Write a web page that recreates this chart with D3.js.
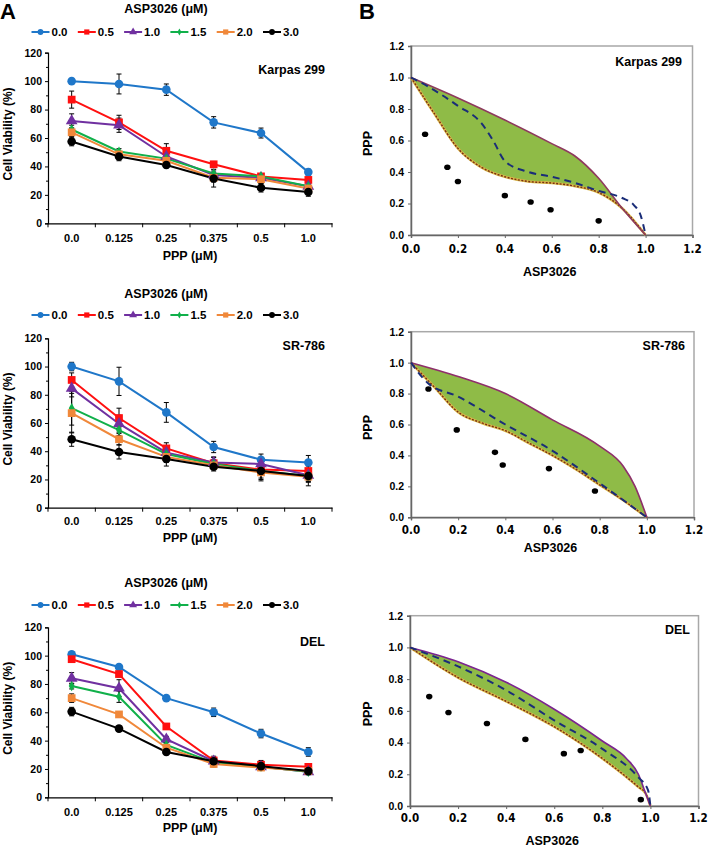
<!DOCTYPE html>
<html><head><meta charset="utf-8">
<script src="https://cdn.jsdelivr.net/npm/d3@7"></script>
<style>
html,body{margin:0;padding:0;background:#fff;}
svg{display:block;font-family:"Liberation Sans",Arial,sans-serif;font-weight:bold;}
</style></head>
<body><svg id="c" width="709" height="848"></svg>
<script>
// ---------- DATA ----------
const pppLabels = ["0.0","0.125","0.25","0.375","0.5","1.0"];
const aspLevels = ["0.0","0.5","1.0","1.5","2.0","3.0"];
const yTicksA = [0,20,40,60,80,100,120];
const ticksB = [0,0.2,0.4,0.6,0.8,1.0,1.2];

// Karpas 299 viability (%) per ASP3026 level
const karpasMean = [
  [100, 98, 94, 71, 63.5, 36],
  [87, 71, 51, 41.5, 33, 30.5],
  [72, 69, 47, 34, 32, 26],
  [66, 50.5, 45.5, 35, 33, 26],
  [64, 48.5, 44, 32, 31, 24.5],
  [57.5, 47, 41, 31.5, 25, 22]
];
const karpasErr = [
  [1,7,4,4,3.5,2],[6,5,5,2,2,2],[5,5,4,2,2,2],[3,2,2,3,2,2],[3,2,2,3,3,2],[3,3,2,6,3,3]
];
const srMean = [
  [100, 89.5, 67.5, 43, 34, 32],
  [90.5, 63.5, 42, 31.5, 27, 26],
  [84.5, 59.5, 39, 32, 31, 23],
  [70.5, 55, 38, 31, 26, 22.5],
  [67, 48.5, 36, 30, 25, 22],
  [48.5, 39.5, 34.5, 29, 26, 22.5]
];
const srErr = [
  [3,10,7,4,4,5],[5,7,4,4,4,4],[6,6,4,4,3,4],[12,4,4,3,5,4],[14,4,4,3,6,4],[5,5,5,3,6,7]
];
const delMean = [
  [101, 92, 70, 60, 45, 32],
  [97.5, 87, 50, 26, 23, 21.5],
  [84, 77, 41, 25.5, 21.5, 18],
  [78.5, 71, 37, 24.5, 21.5, 18],
  [70, 58.5, 35, 23.5, 21, 18.5],
  [60.5, 48.5, 32, 25.5, 22, 18.5]
];
const delErr = [
  [1.5,1.5,1.5,3,3,3],[2,2,2,3,3,2],[4,6,2,2,2,2],[2,4,2,2,2,2],[3,2,2,2,2,2],[3,2,2,2,2,2]
];

// Isobolograms: [ASP3026, PPP]
const karpasUpper = [[0,1],[0.2,0.87],[0.4,0.73],[0.6,0.58],[0.7,0.50],[0.8,0.36],[0.9,0.17],[1,0]];
const karpasLower = [[0,1],[0.1,0.77],[0.2,0.55],[0.3,0.43],[0.4,0.37],[0.5,0.34],[0.6,0.33],[0.7,0.31],[0.8,0.27],[0.9,0.17],[1,0]];
const karpasBlue  = [[0,1],[0.07,0.945],[0.2,0.82],[0.3,0.71],[0.35,0.60],[0.4,0.47],[0.5,0.40],[0.6,0.37],[0.7,0.33],[0.8,0.28],[0.9,0.235],[0.95,0.19],[0.98,0.12],[1,0]];
const karpasDots  = [[0.06,0.64],[0.155,0.43],[0.2,0.34],[0.4,0.25],[0.51,0.21],[0.595,0.16],[0.8,0.09]];

const srUpper = [[0,1],[0.2,0.91],[0.4,0.80],[0.6,0.63],[0.8,0.46],[0.9,0.33],[0.95,0.20],[1,0]];
const srLower = [[0,1],[0.1,0.84],[0.2,0.68],[0.3,0.61],[0.4,0.56],[0.5,0.48],[0.6,0.40],[0.7,0.31],[0.8,0.21],[0.9,0.11],[1,0]];
const srBlue  = [[0,1],[0.07,0.87],[0.2,0.78],[0.4,0.60],[0.6,0.43],[0.8,0.22],[1,0]];
const srDots  = [[0.074,0.83],[0.194,0.565],[0.356,0.42],[0.389,0.338],[0.585,0.315],[0.78,0.17]];

const delUpper = [[0,1],[0.2,0.91],[0.4,0.78],[0.6,0.61],[0.8,0.41],[0.9,0.30],[0.95,0.20],[0.98,0.08],[1,0]];
const delLower = [[0,1],[0.2,0.81],[0.4,0.66],[0.6,0.50],[0.8,0.30],[0.95,0.12],[0.98,0.08],[1,0]];
const delBlue  = [[0,1],[0.2,0.88],[0.4,0.73],[0.6,0.54],[0.8,0.36],[0.95,0.18],[0.99,0.1],[1,0]];
const delDots  = [[0.08,0.69],[0.16,0.59],[0.32,0.52],[0.48,0.42],[0.64,0.33],[0.71,0.35],[0.96,0.04]];

// ---------- STYLE ----------
const colors = ["#1f77c9","#ff1010","#7030a0","#10b04a","#f0883a","#000000"];
const shapes = [d3.symbolCircle,d3.symbolSquare,d3.symbolTriangle,d3.symbolDiamond,d3.symbolSquare,d3.symbolCircle];
const shapeSize = [58,60,60,30,60,58];

const svg = d3.select("#c");

svg.append("text").attr("x",0).attr("y",19).attr("font-size",22).text("A");
svg.append("text").attr("x",359).attr("y",19).attr("font-size",22).text("B");

function panelA(cfg){
  const {means, errs, yTop, yBot, titleY, legendY, tickLblY, xlabY, name, nameY} = cfg;
  const xL = 48, xR = 332;
  const x = d3.scaleBand().domain(pppLabels).range([xL,xR]);
  const y = d3.scaleLinear().domain([0,120]).range([yBot,yTop]);
  const g = svg.append("g");

  g.append("text").attr("x",166).attr("y",titleY).attr("text-anchor","middle")
    .attr("dominant-baseline","central").attr("font-size",12.5).text("ASP3026 (μM)");

  // legend
  aspLevels.forEach((lv,i)=>{
    const lx = 31.5 + i*46.3;
    g.append("line").attr("x1",lx).attr("x2",lx+18).attr("y1",legendY).attr("y2",legendY)
      .attr("stroke",colors[i]).attr("stroke-width",2);
    g.append("path").attr("d",d3.symbol().type(shapes[i]).size(shapeSize[i]*0.45)())
      .attr("transform",`translate(${lx+9},${legendY})`).attr("fill",colors[i]);
    g.append("text").attr("x",lx+20).attr("y",legendY).attr("dominant-baseline","central")
      .attr("font-size",11.5).text(lv);
  });

  // axes
  const ya = d3.axisLeft(y).tickValues(yTicksA).tickSize(3).tickPadding(3).tickFormat(d3.format("d"));
  const yg = g.append("g").attr("transform",`translate(${xL},0)`).call(ya);
  const ym = d3.axisLeft(y).tickValues(d3.range(10,120,20)).tickSize(2).tickFormat("");
  g.append("g").attr("transform",`translate(${xL},0)`).call(ym).select(".domain").remove();
  yg.selectAll("text").attr("font-size",10.5).attr("font-weight","bold");
  const xa = d3.axisBottom(x).tickSize(0).tickFormat("");
  g.append("g").attr("transform",`translate(0,${yBot})`).call(xa);
  const bounds = pppLabels.map(d=>x(d)).concat([xR]);
  bounds.forEach(b=>g.append("line").attr("x1",b).attr("x2",b).attr("y1",yBot).attr("y2",yBot+4).attr("stroke","#000"));
  g.selectAll(".domain").attr("stroke","#000").attr("stroke-width",1.2);
  g.selectAll(".tick line").attr("stroke","#000");
  pppLabels.forEach(l=>{
    g.append("text").attr("x",x(l)+x.bandwidth()/2).attr("y",tickLblY).attr("text-anchor","middle")
      .attr("dominant-baseline","central").attr("font-size",11).text(l);
  });
  g.append("text").attr("x",190).attr("y",xlabY).attr("text-anchor","middle")
    .attr("dominant-baseline","central").attr("font-size",12.5).text("PPP (μM)");
  g.append("text").attr("transform",`translate(8,${(yTop+yBot)/2-4}) rotate(-90)`).attr("text-anchor","middle")
    .attr("dominant-baseline","central").attr("font-size",12).text("Cell Viability (%)");
  g.append("text").attr("x",325).attr("y",nameY).attr("text-anchor","end")
    .attr("dominant-baseline","central").attr("font-size",12.5).text(name);

  const cx = l => x(l)+x.bandwidth()/2;
  const line = d3.line().x((d,i)=>cx(pppLabels[i])).y(d=>y(d));
  means.forEach((s,si)=>{
    g.append("path").datum(s).attr("d",line).attr("fill","none").attr("stroke",colors[si]).attr("stroke-width",2);
  });
  means.forEach((s,si)=>{
    s.forEach((v,i)=>{
      const e = errs[si][i], X = cx(pppLabels[i]);
      g.append("line").attr("x1",X).attr("x2",X).attr("y1",y(v+e)).attr("y2",y(v-e)).attr("stroke","#000").attr("stroke-width",1);
      [v+e,v-e].forEach(t=>g.append("line").attr("x1",X-2.5).attr("x2",X+2.5).attr("y1",y(t)).attr("y2",y(t)).attr("stroke","#000").attr("stroke-width",1));
    });
  });
  means.forEach((s,si)=>{
    s.forEach((v,i)=>{
      g.append("path").attr("d",d3.symbol().type(shapes[si]).size(shapeSize[si])())
        .attr("transform",`translate(${cx(pppLabels[i])},${y(v)})`).attr("fill",colors[si]);
    });
  });
}

panelA({means:karpasMean, errs:karpasErr, yTop:52.7, yBot:223.3, titleY:9, legendY:32, tickLblY:238, xlabY:256, name:"Karpas 299", nameY:70});
panelA({means:srMean, errs:srErr, yTop:338.3, yBot:507.7, titleY:294, legendY:315, tickLblY:521, xlabY:538, name:"SR-786", nameY:346});
panelA({means:delMean, errs:delErr, yTop:627.3, yBot:797.3, titleY:583, legendY:605, tickLblY:812, xlabY:828, name:"DEL", nameY:642});

function panelB(cfg){
  const {upper, lower, blue, dots, x0, x1, y0, y1, tickLblY, xlabY, name, nameX, nameY, upColor} = cfg;
  const x = d3.scaleLinear().domain([0,1.2]).range([x0,x1]);
  const y = d3.scaleLinear().domain([0,1.2]).range([y0,y1]);
  const g = svg.append("g");
  g.append("rect").attr("x",x0).attr("y",y1).attr("width",x1-x0).attr("height",y0-y1)
    .attr("fill","none").attr("stroke","#a8a8a8").attr("stroke-width",1.5);
  const ya = d3.axisLeft(y).tickValues(ticksB).tickSize(3).tickPadding(4).tickFormat(d3.format(".1f"));
  const yg = g.append("g").attr("transform",`translate(${x0},0)`).call(ya);
  yg.selectAll("text").attr("font-size",10.5).attr("font-weight","bold");
  const xa = d3.axisBottom(x).tickValues(ticksB).tickSize(3).tickFormat("");
  g.append("g").attr("transform",`translate(0,${y0})`).call(xa);
  g.selectAll(".domain").attr("stroke","#666").attr("stroke-width",1.5);
  g.selectAll(".tick line").attr("stroke","#666");
  ticksB.forEach(t=>{
    g.append("text").attr("x",x(t)).attr("y",tickLblY).attr("text-anchor","middle")
      .attr("dominant-baseline","central").attr("font-size",11.5)
      .attr("font-family","'Liberation Sans Narrow','DejaVu Sans Condensed',Arial,sans-serif")
      .text(d3.format(".1f")(t));
  });
  g.append("text").attr("x",(x0+x(1.2))/2 - 2).attr("y",xlabY).attr("text-anchor","middle")
    .attr("dominant-baseline","central").attr("font-size",12.5).text("ASP3026");
  g.append("text").attr("transform",`translate(368,${(y0+y1)/2+3}) rotate(-90)`).attr("text-anchor","middle")
    .attr("dominant-baseline","central").attr("font-size",12.5).text("PPP");
  g.append("text").attr("x",nameX).attr("y",nameY).attr("text-anchor","end")
    .attr("dominant-baseline","central").attr("font-size",12.5).text(name);

  const lg = d3.line().x(d=>x(d[0])).y(d=>y(d[1])).curve(d3.curveMonotoneX);
  const fillPath = lg(upper) + lg(lower.slice().reverse()).replace(/^M/,"L") + "Z";
  g.append("path").attr("d",fillPath).attr("fill","#8fbb47").attr("stroke","none");
  g.append("path").attr("d",lg(lower)).attr("fill","none").attr("stroke","#d9b84a").attr("stroke-width",2.6);
  g.append("path").attr("d",lg(lower)).attr("fill","none").attr("stroke","#7a2e12").attr("stroke-width",1.4).attr("stroke-dasharray","2,1.5");
  g.append("path").attr("d",lg(upper)).attr("fill","none").attr("stroke",upColor).attr("stroke-width",1.6);
  g.append("path").attr("d",lg(blue)).attr("fill","none").attr("stroke","#1a2d78").attr("stroke-width",2).attr("stroke-dasharray","7,5");
  dots.forEach(d=>g.append("ellipse").attr("cx",x(d[0])).attr("cy",y(d[1])).attr("rx",3.2).attr("ry",2.8).attr("fill","#000"));
}

panelB({upper:karpasUpper, lower:karpasLower, blue:karpasBlue, dots:karpasDots, x0:411, x1:692.5, y0:235, y1:46,
  tickLblY:249, xlabY:272, name:"Karpas 299", nameX:682, nameY:62, upColor:"#8e3a5e"});
panelB({upper:srUpper, lower:srLower, blue:srBlue, dots:srDots, x0:411, x1:694, y0:517.3, y1:331.7,
  tickLblY:530, xlabY:548, name:"SR-786", nameX:685, nameY:346, upColor:"#8e2f6a"});
panelB({upper:delUpper, lower:delLower, blue:delBlue, dots:delDots, x0:410, x1:698.5, y0:806, y1:615.7,
  tickLblY:818, xlabY:841, name:"DEL", nameX:690, nameY:630, upColor:"#7b2490"});
</script></body></html>
